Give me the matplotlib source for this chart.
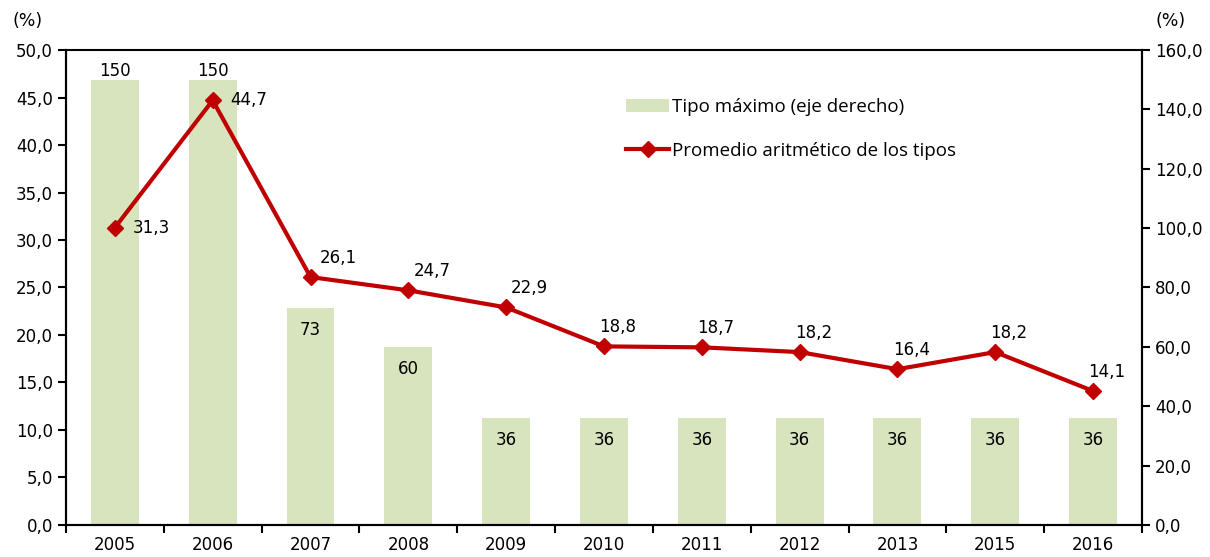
import matplotlib.pyplot as plt
from matplotlib.ticker import FuncFormatter, FixedLocator
from matplotlib.patches import Patch
from matplotlib.lines import Line2D

plt.rcParams["font.family"] = ["DejaVu Sans"]

anios = ["2005", "2006", "2007", "2008", "2009", "2010", "2011", "2012", "2013", "2015", "2016"]
tipo_maximo = [150, 150, 73, 60, 36, 36, 36, 36, 36, 36, 36]
promedio = [31.3, 44.7, 26.1, 24.7, 22.9, 18.8, 18.7, 18.2, 16.4, 18.2, 14.1]

# desplazamientos de las etiquetas de la línea (puntos)
offs_linea = [(13, 0), (13, 0), (20, 14), (17, 14), (17, 14), (10, 14), (10, 14), (10, 14), (10, 14), (10, 14), (10, 14)]

VERDE = "#D7E4BD"
ROJO = "#C00000"
coma = FuncFormatter(lambda v, p: f"{v:.1f}".replace(".", ","))

fig = plt.figure(figsize=(12.1, 5.57), dpi=100)
ax = fig.add_axes([0.0545, 0.0575, 0.8893, 0.8527])
ax2 = ax.twinx()
ax.set_zorder(ax2.get_zorder() + 1)
ax.patch.set_visible(False)

x = list(range(len(anios)))

# barras en el eje derecho
ax2.bar(x, tipo_maximo, width=0.49, color=VERDE, zorder=1)
for xi, v in zip(x, tipo_maximo):
    if v >= 100:
        ax2.annotate(str(v), (xi, v), xytext=(0, 0), textcoords="offset points",
                     ha="center", va="bottom", fontsize=12)
    else:
        ax2.annotate(str(v), (xi, v), xytext=(0, -16), textcoords="offset points",
                     ha="center", va="center", fontsize=12)

# línea en el eje izquierdo
ax.plot(x, promedio, color=ROJO, lw=3, marker="D", ms=8, zorder=3)
for xi, v, (dx, dy) in zip(x, promedio, offs_linea):
    ha = "left" if dy < 5 else "center"
    ax.annotate(f"{v:.1f}".replace(".", ","), (xi, v), xytext=(dx, dy),
                textcoords="offset points", ha=ha, va="center", fontsize=12)

ax.set_xlim(-0.5, len(anios) - 0.5)
ax.set_ylim(0, 50)
ax2.set_ylim(0, 160)
ax.set_yticks([i * 5 for i in range(11)])
ax2.set_yticks([i * 20 for i in range(9)])
ax.yaxis.set_major_formatter(coma)
ax2.yaxis.set_major_formatter(coma)

ax.set_xticks(x)
ax.set_xticklabels(anios)
ax.xaxis.set_minor_locator(FixedLocator([i - 0.5 for i in range(len(anios) + 1)]))
ax.tick_params(axis="x", which="major", length=0, pad=8, labelsize=12)
ax.tick_params(axis="x", which="minor", length=6, width=1.5, direction="out")
ax.tick_params(axis="y", length=6, width=1.5, labelsize=12)
ax2.tick_params(axis="y", length=6, width=1.5, labelsize=12)

for a in (ax, ax2):
    for s in a.spines.values():
        s.set_linewidth(1.5)
ax2.spines["top"].set_linewidth(1.2)

fig.text(0.010, 0.962, "(%)", fontsize=12.5, ha="left", va="center")
fig.text(0.955, 0.962, "(%)", fontsize=12.5, ha="left", va="center")

handles = [Patch(facecolor=VERDE, edgecolor="none"),
           Line2D([0], [0], color=ROJO, lw=3, marker="D", ms=8)]
ax.legend(handles, ["Tipo máximo (eje derecho)", "Promedio aritmético de los tipos"],
          loc="upper left", bbox_to_anchor=(0.505, 0.935), frameon=False,
          prop={"family": "Open Sans", "size": 13.5}, handlelength=2.3,
          handletextpad=0.15, labelspacing=1.4)

fig.savefig("out.png", dpi=100)
